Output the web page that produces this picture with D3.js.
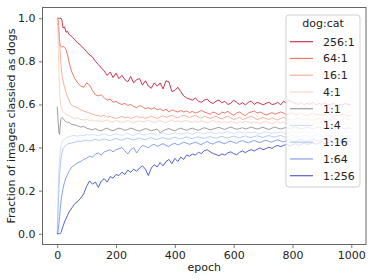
<!DOCTYPE html>
<html><head><meta charset="utf-8">
<script src="https://cdn.jsdelivr.net/npm/d3@7"></script>
<style>html,body{margin:0;padding:0;background:#fff;}svg{display:block;font-family:"DejaVu Sans",sans-serif;}</style>
</head><body><svg id="c" width="374" height="280"></svg>
<script>
const epochs = [0,2,4,6,8,10,13,16,20,25,30,35,40,45,50,
60,70,80,90,100,110,120,130,140,150,160,170,180,190,200,210,220,230,240,250,
260,270,280,290,300,310,320,330,340,350,360,370,380,390,400,410,420,430,440,450,
460,470,480,490,500,510,520,530,540,550,560,570,580,590,600,610,620,630,640,650,
660,670,680,690,700,710,720,730,740,750,760,770,780,790,800,810,820,830,840,850,
860,870,880,890,900,910,920,930,940,950,960,970,980,990,1000];
const seriesNames = ["256:1","64:1","16:1","4:1","1:1","1:4","1:16","1:64","1:256"];
const seriesColors = ["#c5102e","#e8604c","#f5a48a","#f9cdbf","#8c8c8c","#c9dbf5","#a4c0f6","#6d8ef0","#3544c4"];
const xTicks = [0,200,400,600,800,1000];
const yTicks = [0.0,0.2,0.4,0.6,0.8,1.0];

const r256 = [1.0,1.0,1.0,1.0,1.0,1.0,1.0,0.99,0.955,0.96,0.935,0.94,0.925,0.92,0.915,
0.90,0.885,0.875,0.86,0.845,0.83,0.82,0.80,0.785,0.77,
0.755,0.735,0.75,0.725,0.745,0.72,0.735,0.715,0.705,0.73,
0.70,0.715,0.72,0.69,0.71,0.685,0.675,0.70,0.685,0.70,
0.672,0.71,0.705,0.66,0.665,0.68,0.66,0.64,0.63,0.625,
0.62,0.63,0.615,0.61,0.62,0.625,0.61,0.605,0.615,0.62,
0.608,0.615,0.60,0.605,0.62,0.61,0.60,0.608,0.598,0.61,
0.615,0.60,0.61,0.605,0.598,0.605,0.61,0.60,0.602,0.61,
0.598,0.615,0.605,0.62,0.61,0.605,0.60,0.61,0.598,0.605,
0.60,0.61,0.598,0.605,0.60,0.608,0.598,0.60,0.605,0.595,
0.60,0.598,0.605,0.60,0.602];
const r64 = [1.0,1.0,0.98,0.93,0.89,0.875,0.87,0.865,0.87,0.865,0.855,0.83,0.80,0.77,0.75,
0.72,0.70,0.685,0.68,0.70,0.69,0.665,0.645,0.64,0.645,
0.63,0.62,0.625,0.61,0.615,0.605,0.60,0.605,0.595,0.60,
0.59,0.585,0.595,0.59,0.58,0.585,0.578,0.585,0.575,0.58,
0.57,0.578,0.565,0.575,0.57,0.565,0.572,0.565,0.57,0.562,
0.568,0.56,0.565,0.572,0.565,0.56,0.555,0.565,0.56,0.552,
0.565,0.56,0.568,0.558,0.55,0.56,0.565,0.555,0.548,0.56,
0.565,0.57,0.56,0.565,0.558,0.55,0.556,0.562,0.555,0.56,
0.565,0.56,0.552,0.555,0.56,0.55,0.555,0.56,0.552,0.548,
0.555,0.56,0.55,0.555,0.548,0.552,0.558,0.55,0.545,0.552,
0.548,0.555,0.55,0.545,0.55];
const r16 = [1.0,0.99,0.97,0.94,0.90,0.85,0.78,0.74,0.71,0.68,0.655,0.635,0.62,0.605,0.595,
0.59,0.585,0.575,0.57,0.565,0.56,0.555,0.55,0.548,0.545,
0.55,0.54,0.545,0.538,0.535,0.54,0.545,0.538,0.542,0.535,
0.54,0.545,0.538,0.542,0.536,0.54,0.546,0.54,0.535,0.542,
0.548,0.54,0.545,0.55,0.542,0.538,0.545,0.55,0.545,0.54,
0.545,0.55,0.542,0.536,0.545,0.54,0.535,0.54,0.545,0.538,
0.532,0.54,0.545,0.538,0.53,0.535,0.54,0.53,0.535,0.54,
0.545,0.538,0.53,0.535,0.54,0.535,0.53,0.538,0.532,0.528,
0.535,0.54,0.532,0.528,0.535,0.53,0.538,0.532,0.528,0.535,
0.53,0.525,0.532,0.536,0.53,0.525,0.532,0.528,0.535,0.53,
0.525,0.53,0.535,0.528,0.53];
const r4 = [1.0,0.95,0.85,0.74,0.66,0.62,0.59,0.575,0.565,0.56,0.555,0.55,0.548,0.545,0.54,
0.535,0.538,0.53,0.528,0.532,0.525,0.528,0.522,0.525,0.52,
0.524,0.528,0.52,0.518,0.525,0.522,0.516,0.52,0.526,0.52,
0.515,0.52,0.525,0.518,0.522,0.528,0.52,0.516,0.522,0.525,
0.52,0.515,0.522,0.528,0.52,0.524,0.518,0.522,0.526,0.52,
0.516,0.522,0.518,0.524,0.52,0.514,0.52,0.526,0.518,0.522,
0.516,0.52,0.515,0.522,0.518,0.512,0.52,0.516,0.522,0.518,
0.514,0.52,0.516,0.512,0.518,0.522,0.515,0.51,0.516,0.52,
0.514,0.518,0.51,0.516,0.52,0.514,0.51,0.518,0.515,0.512,
0.518,0.512,0.516,0.51,0.514,0.518,0.512,0.508,0.514,0.516,
0.51,0.514,0.508,0.512,0.51];
const r1 = [0.59,0.55,0.50,0.47,0.46,0.50,0.535,0.54,0.535,0.525,0.52,0.515,0.518,0.51,0.508,
0.505,0.50,0.495,0.498,0.49,0.486,0.482,0.488,0.48,0.478,
0.485,0.49,0.482,0.478,0.485,0.49,0.486,0.48,0.484,0.49,
0.486,0.48,0.476,0.482,0.488,0.484,0.478,0.482,0.486,0.468,
0.478,0.484,0.488,0.482,0.478,0.485,0.49,0.484,0.48,0.486,
0.49,0.484,0.48,0.486,0.492,0.488,0.482,0.486,0.49,0.494,
0.488,0.484,0.49,0.495,0.49,0.485,0.488,0.492,0.486,0.49,
0.495,0.49,0.486,0.49,0.494,0.488,0.484,0.49,0.495,0.49,
0.486,0.49,0.494,0.488,0.492,0.496,0.49,0.486,0.49,0.494,
0.49,0.486,0.492,0.496,0.49,0.488,0.494,0.49,0.486,0.492,
0.495,0.49,0.488,0.492,0.49];
const c4 = [0,0.12,0.22,0.30,0.35,0.38,0.41,0.425,0.435,0.44,0.445,0.45,0.448,0.452,0.455,
0.456,0.452,0.458,0.455,0.46,0.457,0.462,0.458,0.455,0.46,
0.462,0.458,0.455,0.46,0.464,0.46,0.456,0.462,0.465,0.46,
0.456,0.462,0.466,0.46,0.458,0.463,0.467,0.462,0.458,0.464,
0.468,0.462,0.46,0.465,0.47,0.466,0.462,0.466,0.47,0.465,
0.462,0.467,0.471,0.466,0.463,0.468,0.472,0.467,0.464,0.469,
0.466,0.47,0.474,0.468,0.465,0.47,0.473,0.468,0.466,0.471,
0.468,0.472,0.467,0.464,0.47,0.474,0.469,0.466,0.471,0.468,
0.472,0.468,0.465,0.47,0.474,0.47,0.466,0.471,0.475,0.47,
0.467,0.472,0.468,0.465,0.47,0.474,0.469,0.466,0.472,0.47,
0.467,0.471,0.474,0.469,0.47];
const c16 = [0,0.06,0.14,0.21,0.27,0.31,0.35,0.375,0.395,0.405,0.41,0.415,0.42,0.418,0.422,
0.425,0.43,0.428,0.432,0.435,0.43,0.434,0.438,0.433,0.436,
0.44,0.436,0.432,0.438,0.442,0.437,0.434,0.44,0.443,0.438,
0.435,0.44,0.444,0.439,0.436,0.442,0.446,0.44,0.437,0.443,
0.446,0.441,0.438,0.444,0.448,0.443,0.44,0.445,0.449,0.444,
0.441,0.446,0.45,0.445,0.442,0.447,0.451,0.446,0.443,0.448,
0.452,0.447,0.444,0.449,0.453,0.448,0.445,0.45,0.454,0.449,
0.446,0.451,0.455,0.45,0.447,0.452,0.456,0.451,0.448,0.453,
0.456,0.45,0.447,0.452,0.456,0.451,0.448,0.453,0.457,0.452,
0.449,0.454,0.458,0.453,0.45,0.455,0.459,0.454,0.451,0.456,
0.459,0.454,0.452,0.457,0.455];
const c64 = [0,0,0.02,0.05,0.08,0.11,0.15,0.18,0.21,0.24,0.26,0.275,0.29,0.30,0.31,
0.32,0.33,0.335,0.345,0.35,0.36,0.355,0.37,0.375,0.365,
0.38,0.385,0.39,0.38,0.39,0.395,0.40,0.385,0.37,0.39,
0.40,0.375,0.395,0.41,0.405,0.398,0.41,0.415,0.405,0.412,
0.418,0.41,0.405,0.415,0.42,0.412,0.418,0.425,0.42,0.415,
0.42,0.425,0.418,0.414,0.422,0.428,0.42,0.416,0.424,0.428,
0.422,0.418,0.425,0.43,0.424,0.42,0.428,0.432,0.426,0.422,
0.428,0.433,0.427,0.423,0.43,0.434,0.428,0.425,0.432,0.436,
0.43,0.426,0.433,0.437,0.431,0.428,0.434,0.438,0.432,0.429,
0.435,0.439,0.433,0.43,0.436,0.44,0.434,0.431,0.437,0.441,
0.435,0.432,0.438,0.442,0.44];
const c256 = [0,0,0,0,0,0,0.005,0.02,0.035,0.055,0.07,0.085,0.10,0.11,0.12,
0.14,0.15,0.165,0.185,0.22,0.245,0.23,0.24,0.215,0.245,
0.255,0.24,0.265,0.258,0.275,0.27,0.285,0.275,0.295,0.285,
0.30,0.29,0.305,0.315,0.30,0.27,0.305,0.32,0.31,0.33,
0.315,0.335,0.345,0.325,0.35,0.335,0.355,0.345,0.365,0.36,
0.37,0.365,0.378,0.372,0.385,0.39,0.38,0.372,0.368,0.362,
0.37,0.365,0.375,0.38,0.372,0.366,0.378,0.384,0.376,0.385,
0.39,0.384,0.392,0.398,0.39,0.395,0.402,0.396,0.405,0.41,
0.404,0.41,0.415,0.408,0.412,0.418,0.41,0.415,0.42,0.414,
0.418,0.422,0.415,0.42,0.425,0.418,0.422,0.428,0.42,0.424,
0.428,0.422,0.426,0.43,0.428];
const seriesValues = [r256,r64,r16,r4,r1,c4,c16,c64,c256];

const svg = d3.select("#c");
const L=42.5, R=366, T=7.5, B=244.5;
const x = d3.scaleLinear().domain([-50,1050]).range([L,R]);
const y = d3.scaleLinear().domain([-0.05,1.05]).range([B,T]);
const fs = 11;

const clip = svg.append("clipPath").attr("id","cp").append("rect")
  .attr("x",L).attr("y",T).attr("width",R-L).attr("height",B-T);

const line = d3.line().x(d=>x(d[0])).y(d=>y(d[1]));
const g = svg.append("g").attr("clip-path","url(#cp)");
seriesValues.forEach((vals,i)=>{
  g.append("path").datum(epochs.map((e,j)=>[e,vals[j]]))
   .attr("d",line).attr("fill","none")
   .attr("stroke",seriesColors[i]).attr("stroke-width",1)
   .attr("stroke-opacity",0.85).attr("stroke-linejoin","round");
});

// axes
const xa = svg.append("g").attr("transform",`translate(0,${B})`)
  .call(d3.axisBottom(x).tickValues(xTicks).tickFormat(d3.format("d")).tickSize(3.5).tickPadding(3));
const ya = svg.append("g").attr("transform",`translate(${L},0)`)
  .call(d3.axisLeft(y).tickValues(yTicks).tickFormat(d3.format(".1f")).tickSize(3.5).tickPadding(3.5));
[xa,ya].forEach(a=>{
  a.select(".domain").remove();
  a.selectAll("line").attr("stroke","#555").attr("stroke-width",0.8);
  a.selectAll("text").attr("font-size",fs).attr("fill","#222").attr("font-family","DejaVu Sans");
});
svg.append("rect").attr("x",L).attr("y",T).attr("width",R-L).attr("height",B-T)
  .attr("fill","none").attr("stroke","#666").attr("stroke-width",1);

svg.append("text").attr("x",(L+R)/2).attr("y",271).attr("text-anchor","middle")
  .attr("font-size",fs).attr("fill","#222").text("epoch");
svg.append("text").attr("transform",`translate(15,${(T+B)/2}) rotate(-90)`)
  .attr("text-anchor","middle").attr("font-size",fs).attr("fill","#222")
  .text("Fraction of images classied as dogs");

// legend
const lg = svg.append("g");
lg.append("rect").attr("x",286).attr("y",15).attr("width",74).attr("height",172)
  .attr("rx",3).attr("fill","#fff").attr("fill-opacity",0.8)
  .attr("stroke","#d0d0d0").attr("stroke-width",1);
lg.append("text").attr("x",323).attr("y",27).attr("text-anchor","middle")
  .attr("font-size",fs).attr("fill","#222").text("dog:cat");
seriesNames.forEach((n,i)=>{
  const yy = 41.7 + i*16.75;
  lg.append("line").attr("x1",290).attr("x2",313).attr("y1",yy).attr("y2",yy)
    .attr("stroke",seriesColors[i]).attr("stroke-width",1.2).attr("stroke-opacity",0.85);
  lg.append("text").attr("x",323).attr("y",yy+4).attr("font-size",fs)
    .attr("fill","#222").text(n);
});
</script></body></html>
